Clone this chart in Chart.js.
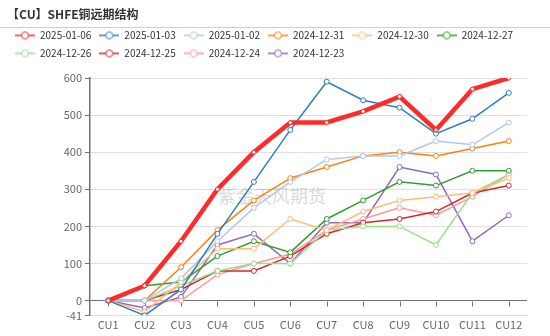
<!DOCTYPE html>
<html>
<head>
<meta charset="utf-8">
<script src="https://cdn.jsdelivr.net/npm/chart.js@4"></script>
<style>
  html, body { margin: 0; padding: 0; background: #fff; }
  #wrap { width: 550px; height: 336px; }
</style>
</head>
<body>
<div id="wrap"><canvas id="myChart" width="550" height="336"></canvas></div>
<script>
const contracts = ['CU1', 'CU2', 'CU3', 'CU4', 'CU5', 'CU6', 'CU7', 'CU8', 'CU9', 'CU10', 'CU11', 'CU12'];
const yTicks = [-41, 0, 100, 200, 300, 400, 500, 600];

// spread vs CU1, one array per trading day
const s20250106 = [0, 40, 160, 300, 400, 480, 480, 510, 550, 460, 570, 600];
const s20250103 = [0, -40, 30, 180, 320, 460, 590, 540, 520, 450, 490, 560];
const s20250102 = [0, 0, 60, 160, 250, 320, 380, 390, 390, 430, 420, 480];
const s20241231 = [0, 0, 90, 190, 270, 330, 360, 390, 400, 390, 410, 430];
const s20241230 = [0, -30, 50, 140, 140, 220, 190, 240, 270, 280, 290, 330];
const s20241227 = [0, 40, 50, 120, 160, 130, 220, 270, 320, 310, 350, 350];
const s20241226 = [0, 0, 40, 80, 100, 100, 190, 200, 200, 150, 290, 340];
const s20241225 = [0, 0, 30, 80, 80, 120, 180, 210, 220, 240, 290, 310];
const s20241224 = [0, 0, 0, 70, 100, 125, 190, 220, 250, 230, 280, 340];
const s20241223 = [0, -20, 10, 150, 180, 100, 210, 210, 360, 340, 160, 230];

const seriesNames = ['2025-01-06', '2025-01-03', '2025-01-02', '2024-12-31', '2024-12-30',
  '2024-12-27', '2024-12-26', '2024-12-25', '2024-12-24', '2024-12-23'];
const seriesData = [s20250106, s20250103, s20250102, s20241231, s20241230,
  s20241227, s20241226, s20241225, s20241224, s20241223];
const colors = ['#ff2b2b', '#2f7fbf', '#aec7e8', '#ff7f0e', '#ffbb78',
  '#2ca02c', '#98df8a', '#d62728', '#ff9896', '#9467bd'];

const FONT = "'Noto Sans CJK SC', 'Noto Sans', sans-serif";

// legend icon: short line with hollow circle
function legendIcon(color) {
  const c = document.createElement('canvas');
  c.width = 20; c.height = 10;
  const g = c.getContext('2d');
  g.strokeStyle = color;
  g.lineWidth = 1.5;
  g.beginPath(); g.moveTo(0, 5); g.lineTo(20, 5); g.stroke();
  g.beginPath(); g.arc(10, 5, 3.5, 0, Math.PI * 2);
  g.fillStyle = '#fff'; g.fill();
  g.lineWidth = 1; g.stroke();
  return c;
}

const datasets = seriesNames.map((name, i) => ({
  label: name,
  data: seriesData[i],
  borderColor: colors[i],
  backgroundColor: '#fff',
  borderWidth: i === 0 ? 4.5 : 1.5,
  pointRadius: i === 0 ? 2 : 2.5,
  pointBorderWidth: 1,
  pointBackgroundColor: '#fff',
  pointBorderColor: colors[i],
  tension: 0,
  fill: false
}));

const decor = {
  id: 'decor',
  beforeDatasetsDraw(chart) {
    const ctx = chart.ctx;
    ctx.save();
    // watermark
    ctx.font = '18px ' + FONT;
    ctx.fillStyle = 'rgba(160,160,160,0.4)';
    ctx.textAlign = 'center';
    ctx.textBaseline = 'middle';
    ctx.fillText('紫金天风期货', 272, 196);
    // tick marks on the zero line
    const xs = chart.scales.x, ys = chart.scales.y;
    const y0 = Math.round(ys.getPixelForValue(0)) + 0.5;
    ctx.strokeStyle = '#6e7079';
    ctx.lineWidth = 1;
    ctx.beginPath();
    contracts.forEach((c, i) => {
      const x = Math.round(xs.getPixelForValue(i)) + 0.5;
      ctx.moveTo(x, y0); ctx.lineTo(x, y0 + 5);
    });
    ctx.stroke();
    ctx.restore();
  },
  afterDraw(chart) {
    const ctx = chart.ctx;
    ctx.save();
    ctx.strokeStyle = '#cfcfcf';
    ctx.lineWidth = 1;
    ctx.beginPath(); ctx.moveTo(0, 27.5); ctx.lineTo(chart.width, 27.5); ctx.stroke();
    ctx.restore();
  }
};

const ctx = document.getElementById('myChart').getContext('2d');
const myChart = new Chart(ctx, {
  type: 'line',
  data: { labels: contracts, datasets: datasets },
  plugins: [decor],
  options: {
    responsive: false,
    animation: false,
    layout: { padding: { left: 7, right: 23, top: 0, bottom: 3 } },
    scales: {
      x: {
        offset: true,
        grid: { display: false, drawTicks: false },
        border: { color: '#e0e0e0' },
        ticks: { color: '#666', font: { size: 11, family: FONT }, padding: 2 }
      },
      xTop: {
        type: 'category',
        labels: contracts,
        position: 'top',
        grid: { display: false, drawTicks: false },
        border: { display: false },
        ticks: { display: false },
        afterFit(s) { s.height = 9.6; }
      },
      y: {
        min: -41,
        max: 600,
        afterBuildTicks(s) { s.ticks = yTicks.map(v => ({ value: v })); },
        afterFit(s) { s.width = 83; },
        grid: {
          color: c => (c.tick && c.tick.value === 0) ? '#6e7079' : '#e0e0e0',
          tickColor: '#6e7079',
          tickLength: 5
        },
        border: { color: '#6e7079', width: 1.5 },
        ticks: { color: '#666', font: { size: 11, family: FONT }, padding: 3 }
      }
    },
    plugins: {
      title: {
        display: true,
        text: '【CU】SHFE铜远期结构',
        align: 'start',
        color: '#333',
        font: { size: 12, weight: 'bold', family: FONT },
        padding: { top: 7, bottom: 1 }
      },
      legend: {
        position: 'top',
        align: 'start',
        labels: {
          usePointStyle: true,
          pointStyleWidth: 20,
          padding: 8,
          color: '#333',
          font: { size: 10, family: FONT },
          generateLabels(chart) {
            return chart.data.datasets.map((d, i) => ({
              text: d.label,
              fillStyle: '#fff',
              strokeStyle: colors[i],
              lineWidth: 1,
              pointStyle: legendIcon(colors[i]),
              hidden: false,
              datasetIndex: i,
              fontColor: '#333'
            }));
          }
        }
      },
      tooltip: { enabled: false }
    }
  }
});
</script>
</body>
</html>
